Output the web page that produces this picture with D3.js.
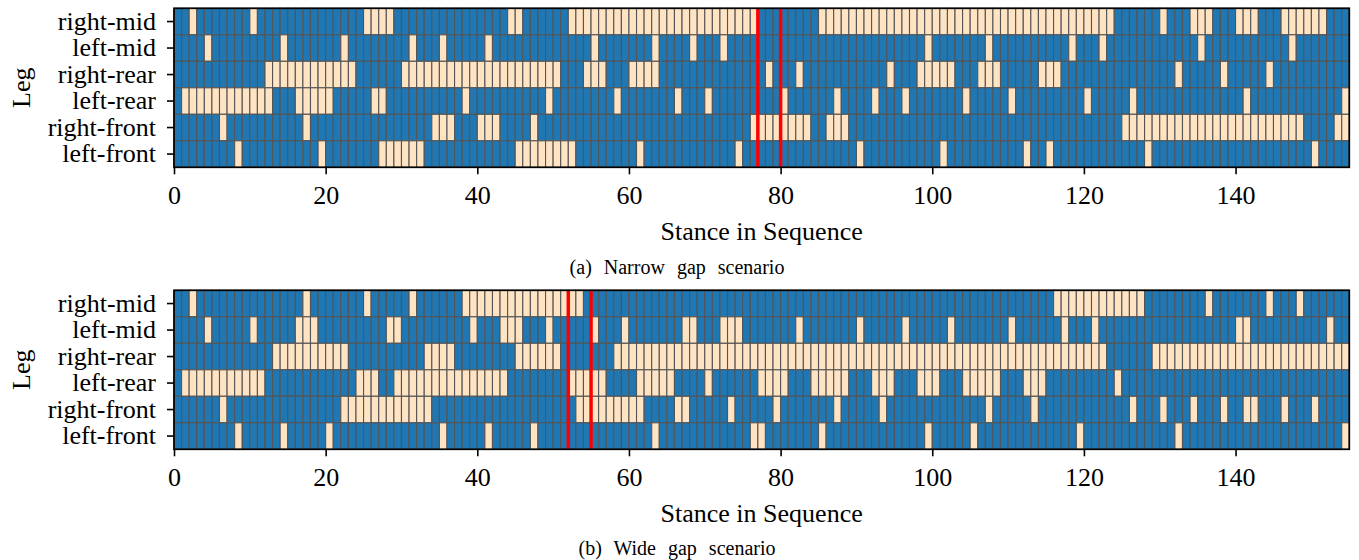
<!DOCTYPE html>
<html><head><meta charset="utf-8">
<script src="https://cdn.jsdelivr.net/npm/d3@7"></script>
<style>
body{margin:0;background:#fff}
svg{display:block}
text{font-family:"Liberation Serif","Times New Roman",serif;fill:#000}
</style>
</head><body>
<svg id="chart" width="1359" height="560"></svg>
<script>
// ---------- data ----------
const legs = ["right-mid","left-mid","right-rear","left-rear","right-front","left-front"];
const nStances = 155;
const xTicks = [0,20,40,60,80,100,120,140];
const xLabel = "Stance in Sequence";
const yLabel = "Leg";
const captions = ["(a) Narrow gap scenario", "(b) Wide gap scenario"];

// light (bisque) cells as inclusive runs [start, end], per leg — narrow gap scenario
const narrowRightMid   = [[2,2],[10,10],[25,28],[44,45],[52,76],[85,123],[130,130],[134,136],[140,142],[146,151]];
const narrowLeftMid    = [[4,4],[14,14],[22,22],[31,31],[35,35],[41,41],[55,55],[63,63],[68,68],[72,72],[99,99],[107,107],[118,118],[122,122],[135,135],[147,147]];
const narrowRightRear  = [[12,23],[30,50],[54,56],[60,63],[78,78],[82,82],[94,94],[98,102],[106,108],[114,116],[132,132],[138,138],[144,144]];
const narrowLeftRear   = [[1,12],[16,20],[26,27],[38,38],[49,49],[58,58],[66,66],[70,70],[80,80],[87,87],[92,92],[96,96],[104,104],[110,110],[120,120],[126,126],[141,141],[154,154]];
const narrowRightFront = [[6,6],[17,17],[34,36],[40,42],[47,47],[76,83],[86,88],[125,148],[153,154]];
const narrowLeftFront  = [[8,8],[19,19],[27,32],[45,52],[61,61],[74,74],[90,90],[101,101],[112,112],[115,115],[128,128],[150,150]];
const narrowGapLines   = [77, 80];

// wide gap scenario
const wideRightMid   = [[2,2],[17,17],[25,25],[31,31],[38,53],[116,127],[136,136],[144,144],[148,148]];
const wideLeftMid    = [[4,4],[10,10],[16,18],[28,29],[39,39],[43,45],[49,49],[55,55],[59,59],[67,68],[72,74],[82,82],[90,90],[96,96],[102,102],[110,110],[117,117],[121,121],[140,141],[152,152]];
const wideRightRear  = [[13,22],[33,36],[45,50],[58,122],[129,154]];
const wideLeftRear   = [[1,11],[24,26],[29,43],[52,56],[61,65],[70,70],[77,80],[84,88],[92,94],[98,100],[104,108],[112,114],[124,124]];
const wideRightFront = [[6,6],[22,33],[53,61],[66,67],[73,73],[79,79],[87,87],[93,93],[107,107],[113,113],[126,126],[130,130],[134,134],[138,138],[141,142],[146,146],[150,150]];
const wideLeftFront  = [[8,8],[14,14],[20,20],[35,35],[41,41],[47,47],[63,63],[76,77],[85,85],[99,99],[105,105],[119,119],[132,132],[154,154]];
const wideGapLines   = [52, 55];

// ---------- helpers ----------
function toCells(runsByLeg){
  const cells = [];
  runsByLeg.forEach((runs, li) => {
    const row = new Array(nStances).fill(0);
    runs.forEach(([a,b]) => { for (let i=a;i<=b;i++) row[i]=1; });
    row.forEach((v,i) => cells.push({leg: legs[li], i, v}));
  });
  return cells;
}

const panels = [
  {cells: toCells([narrowRightMid,narrowLeftMid,narrowRightRear,narrowLeftRear,narrowRightFront,narrowLeftFront]),
   gaps: narrowGapLines, top: 8.3, bottom: 167.3, caption: captions[0],
   xlabBase: 240, capBase: 274},
  {cells: toCells([wideRightMid,wideLeftMid,wideRightRear,wideLeftRear,wideRightFront,wideLeftFront]),
   gaps: wideGapLines, top: 290.3, bottom: 449.3, caption: captions[1],
   xlabBase: 522, capBase: 555}
];

const svg = d3.select("#chart");
const left = 174, right = 1349.3;
const x = d3.scaleLinear().domain([0, nStances]).range([left, right]);
const color = d3.scaleOrdinal().domain([0,1]).range(["#1f77b4","#ffe4c4"]);

panels.forEach(p => {
  const y = d3.scaleBand().domain(legs).range([p.top, p.bottom]).padding(0);
  const g = svg.append("g");

  g.selectAll("rect.cell").data(p.cells).join("rect")
    .attr("class","cell")
    .attr("x", d => x(d.i))
    .attr("y", d => y(d.leg))
    .attr("width", x(1) - x(0))
    .attr("height", y.bandwidth())
    .attr("fill", d => color(d.v))
    .attr("stroke", "#555")
    .attr("stroke-width", 1.1);

  g.selectAll("line.gap").data(p.gaps).join("line")
    .attr("class","gap")
    .attr("x1", d => x(d)).attr("x2", d => x(d))
    .attr("y1", p.top).attr("y2", p.bottom)
    .attr("stroke", "#ff0000").attr("stroke-width", 3.5);

  g.append("rect")
    .attr("x", left).attr("y", p.top)
    .attr("width", right-left).attr("height", p.bottom-p.top)
    .attr("fill","none").attr("stroke","#000").attr("stroke-width",1.7);

  // x axis
  const xa = g.append("g").attr("transform", `translate(0,${p.bottom})`)
    .call(d3.axisBottom(x).tickValues(xTicks).tickFormat(d3.format("d")).tickSize(7).tickPadding(11));
  xa.select(".domain").remove();
  xa.selectAll(".tick line").attr("stroke","#000").attr("stroke-width",1.6);
  xa.selectAll(".tick text").attr("font-size", 26).attr("font-family", '"Liberation Serif",serif').attr("fill","#000");

  // y axis
  const ya = g.append("g").attr("transform", `translate(${left},0)`)
    .call(d3.axisLeft(y).tickSize(7).tickPadding(11));
  ya.select(".domain").remove();
  ya.selectAll(".tick line").attr("stroke","#000").attr("stroke-width",1.6);
  ya.selectAll(".tick text").attr("font-size", 26).attr("font-family", '"Liberation Serif",serif').attr("fill","#000");

  g.append("text")
    .attr("x", (left+right)/2).attr("y", p.xlabBase)
    .attr("text-anchor","middle").attr("font-size",26)
    .text(xLabel);

  g.append("text")
    .attr("transform", `translate(30,${(p.top+p.bottom)/2}) rotate(-90)`)
    .attr("text-anchor","middle").attr("font-size",26)
    .text(yLabel);

  g.append("text")
    .attr("x", 677).attr("y", p.capBase)
    .attr("text-anchor","middle").attr("font-size",20)
    .attr("word-spacing", "7px")
    .text(p.caption);
});
</script>
</body></html>
